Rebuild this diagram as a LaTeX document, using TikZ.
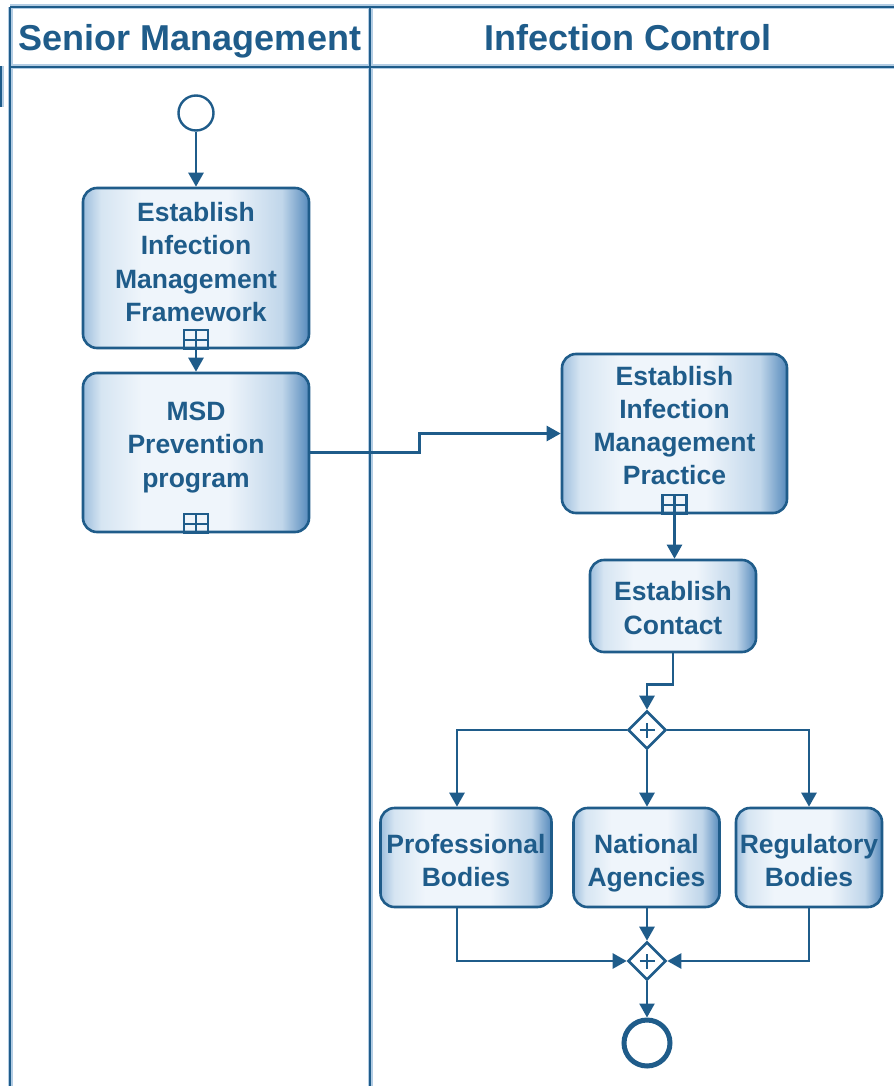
\documentclass[tikz,border=0pt]{standalone}
\usepackage{fontspec}
\setmainfont{Liberation Sans}
\usetikzlibrary{arrows.meta,shapes.geometric}

\definecolor{bpmn}{HTML}{1F5C8A}
\definecolor{halo}{HTML}{B3CDE4}
\definecolor{tL}{HTML}{9DBEDD}
\definecolor{tM1}{HTML}{D6E5F2}
\definecolor{tM}{HTML}{EFF5FB}
\definecolor{tR1}{HTML}{C0D6EA}
\definecolor{tR}{HTML}{568ABC}

% left-to-right fill of the activity boxes
\pgfdeclarehorizontalshading{taskfill}{100bp}{color(0bp)=(tL); color(25bp)=(tL); color(29bp)=(tM1); color(38bp)=(tM); color(57bp)=(tM); color(69bp)=(tR1); color(75bp)=(tR); color(100bp)=(tR)}

\tikzset{
  laneline/.style={draw=bpmn, line width=2.2},
  lanehalo/.style={draw=halo, line width=5},
  headtext/.style={text=bpmn, font=\bfseries\fontsize{36}{40}\selectfont, inner sep=0, anchor=base},
  task/.style={draw=bpmn, line width=2.6, rounded corners=14, shading=taskfill, inner sep=0},
  tasktext/.style={text=bpmn, font=\bfseries\fontsize{26.5}{33.3}\selectfont, align=center, inner sep=0},
  flow/.style={draw=bpmn, line width=2.5, -{Triangle[length=14,width=15]}},
  markline/.style={draw=bpmn, line width=2.2},
  gate/.style={diamond, draw=bpmn, line width=2.6, fill=white, minimum width=38, minimum height=38, inner sep=0},
  startev/.style={circle, draw=bpmn, line width=2.4, fill=white, minimum size=35, inner sep=0},
  endev/.style={circle, draw=bpmn, line width=5, fill=white, minimum size=46, inner sep=0},
}

% collapsed sub-process marker on the bottom edge of a box
\newcommand\submarker[1]{%
  \draw[markline] ([xshift=-12]#1.south) rectangle ([xshift=12,yshift=19]#1.south);
  \draw[markline] (#1.south) -- ([yshift=19]#1.south);
  \draw[markline] ([xshift=-12,yshift=9.5]#1.south) -- ([xshift=12,yshift=9.5]#1.south);
}
% parallel gateway sign
\newcommand\gateplus[1]{%
  \draw[bpmn, line width=2.2] ([xshift=-7.5]#1.center) -- ([xshift=7.5]#1.center);
  \draw[bpmn, line width=2.2] ([yshift=-7.5]#1.center) -- ([yshift=7.5]#1.center);
}

\begin{document}
\begin{tikzpicture}[x=1pt, y=-1pt]
\useasboundingbox (0,0) rectangle (894,1086);

% pool and lanes
\foreach \p in {{(10,7) -- (894,7)}, {(10,67) -- (894,67)}, {(10,7) -- (10,1086)}, {(370,7) -- (370,1086)}, {(1,66) -- (1,107)}}{
  \path[lanehalo] \p;
}
\foreach \p in {{(10,7) -- (894,7)}, {(10,67) -- (894,67)}, {(10,7) -- (10,1086)}, {(370,7) -- (370,1086)}, {(1,66) -- (1,107)}}{
  \path[laneline] \p;
}
\node[headtext] (h1) at (190,51) {Senior Management};
\node[headtext] (h2) at (628,51) {Infection Control};

% Senior Management lane
\node[startev] (s) at (196,113) {};
\node[task, minimum width=226, minimum height=160] (t1) at (196,268) {};
\node[tasktext] (t1x) at ([yshift=6]t1.center) {Establish\\Infection\\Management\\Framework};
\submarker{t1}
\node[task, minimum width=226, minimum height=159] (t2) at (196,452.5) {};
\node[tasktext] (t2x) at ([yshift=5]t2.center) {MSD\\Prevention\\program};
\submarker{t2}

% Infection Control lane
\node[task, minimum width=225, minimum height=159] (t3) at (674.5,433.5) {};
\node[tasktext] (t3x) at ([yshift=8]t3.center) {Establish\\Infection\\Management\\Practice};
\submarker{t3}
\node[task, minimum width=166, minimum height=92] (t4) at (673,606) {};
\node[tasktext] (t4x) at ([yshift=-2]t4.center) {Establish\\Contact};

\node[gate] (g1) at (647,730) {};
\gateplus{g1}

\node[task, minimum width=171, minimum height=99] (pb) at (466,857.5) {};
\node[tasktext, anchor=north] (pbx) at (466,834) {Professional\\Bodies};
\node[task, minimum width=146, minimum height=99] (na) at (646.5,857.5) {};
\node[tasktext, anchor=north] (nax) at (646.5,834) {National\\Agencies};
\node[task, minimum width=146, minimum height=99] (rb) at (809,857.5) {};
\node[tasktext, anchor=north] (rbx) at (809,834) {Regulatory\\Bodies};

\node[gate] (g2) at (647,961) {};
\gateplus{g2}
\node[endev] (e) at (647,1043) {};

% sequence flows
\draw[flow] (s.south) -- (s.south |- t1.north);
\draw[flow] (t1.south) -- (t2.north);
\draw[flow] (t2.east) -- ++(109,0) |- (t3.west);
\draw[flow] (t3.south) -- (t3.south |- t4.north);
\draw[flow] (t4.south) -- ++(0,31) -| (g1.north);
\draw[flow] (g1.west) -| ([xshift=-9]pb.north);
\draw[flow] (g1.south) -- (g1.south |- na.north);
\draw[flow] (g1.east) -| (rb.north);
\draw[flow] ([xshift=-9]pb.south) |- (g2.west);
\draw[flow] (na.south -| g2.north) -- (g2.north);
\draw[flow] (rb.south) |- (g2.east);
\draw[flow] (g2.south) -- (e.north);
\end{tikzpicture}
\end{document}
